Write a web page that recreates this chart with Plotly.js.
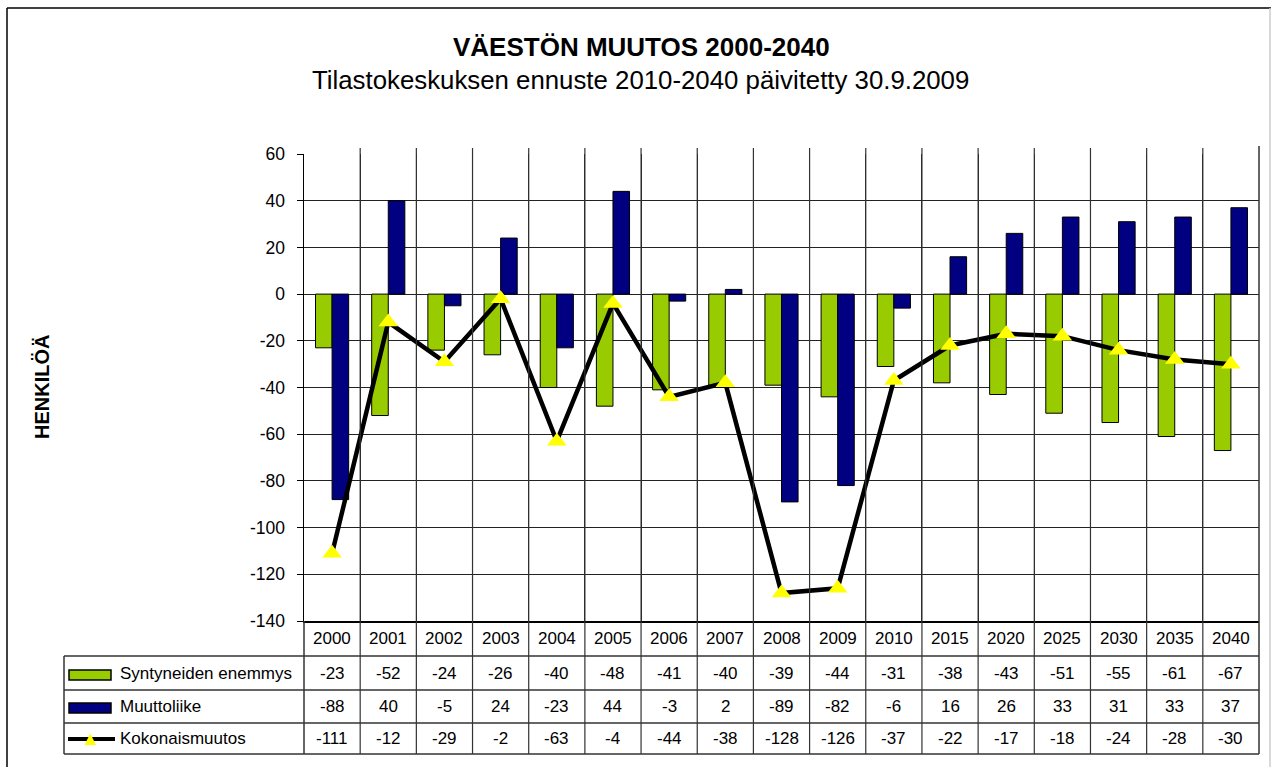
<!DOCTYPE html>
<html>
<head>
<meta charset="utf-8">
<script src="https://cdn.plot.ly/plotly-3.0.1.min.js"></script>
<style>html,body{margin:0;padding:0;background:#fff;}#chart{width:1274px;height:767px;}</style>
</head>
<body>
<div id="chart"></div>
<script>
// ---- data ----
const categories = ['2000','2001','2002','2003','2004','2005','2006','2007','2008','2009','2010','2015','2020','2025','2030','2035','2040'];
const syntyneidenEnemmys = [-23,-52,-24,-26,-40,-48,-41,-40,-39,-44,-31,-38,-43,-51,-55,-61,-67];
const muuttoliike = [-88,40,-5,24,-23,44,-3,2,-89,-82,-6,16,26,33,31,33,37];
const kokonaismuutos = [-111,-12,-29,-2,-63,-4,-44,-38,-128,-126,-37,-22,-17,-18,-24,-28,-30];
const seriesNames = ['Syntyneiden enemmys','Muuttoliike','Kokonaismuutos'];
const yTicks = [60,40,20,0,-20,-40,-60,-80,-100,-120,-140];

// ---- layout helpers (pixel -> paper) ----
const W = 1274, H = 767, ML = 304, MR = 15, MT = 154, MB = 146;
const PW = W - ML - MR, PH = H - MT - MB;
const px = p => (p - ML) / PW;
const py = p => (H - MB - p) / PH;

const FONT = 'Liberation Sans, Arial, sans-serif';
const GREEN = '#99CC00', NAVY = '#000080';
const LINEC = '#333';

const traces = [
  {type:'bar', name:seriesNames[0], x:categories, y:syntyneidenEnemmys,
   marker:{color:GREEN, line:{color:'#000', width:1}}},
  {type:'bar', name:seriesNames[1], x:categories, y:muuttoliike,
   marker:{color:NAVY, line:{color:'#000', width:1}}},
  {type:'scatter', mode:'lines+markers', name:seriesNames[2], x:categories, y:kokonaismuutos,
   line:{color:'#000', width:4.5},
   marker:{symbol:'triangle-up', color:'#FFFF00', size:17, line:{width:0}}}
];

const shapes = [];
const annotations = [];

// outer frame
shapes.push({type:'line', xref:'paper', yref:'paper', x0:px(7), x1:px(7), y0:py(8), y1:py(800), line:{color:'#000', width:1.5}});
shapes.push({type:'line', xref:'paper', yref:'paper', x0:px(7), x1:px(1271), y0:py(8), y1:py(8), line:{color:'#000', width:1.5}});
shapes.push({type:'line', xref:'paper', yref:'paper', x0:px(1270), x1:px(1270), y0:py(8), y1:py(800), line:{color:'#ccc', width:1.5}});

// table grid
const rowLines = [656, 690, 723, 754];
rowLines.forEach(r => shapes.push({type:'line', xref:'paper', yref:'paper', x0:px(64), x1:1, y0:py(r), y1:py(r), line:{color:LINEC, width:1.5}}));
shapes.push({type:'line', xref:'paper', yref:'paper', x0:px(64), x1:px(64), y0:py(656), y1:py(754), line:{color:LINEC, width:1.5}});
shapes.push({type:'line', xref:'paper', yref:'paper', x0:0, x1:0, y0:0, y1:py(754), line:{color:LINEC, width:1.5}});
shapes.push({type:'line', xref:'paper', yref:'paper', x0:1, x1:1, y0:py(146), y1:py(754), line:{color:LINEC, width:1.5}});
for (let i = 1; i < categories.length; i++) {
  shapes.push({type:'line', xref:'x', yref:'paper', x0:i-0.5, x1:i-0.5, y0:py(148), y1:py(754), line:{color:LINEC, width:1.2}});
}

// table texts
const rowCenters = [673, 706.5, 738.5];
const rows = [syntyneidenEnemmys, muuttoliike, kokonaismuutos];
categories.forEach((c, i) => {
  annotations.push({xref:'x', yref:'paper', x:i, y:py(638.5), text:c, showarrow:false,
    font:{family:FONT, size:17, color:'#000'}, xanchor:'center', yanchor:'middle'});
  rows.forEach((arr, r) => {
    annotations.push({xref:'x', yref:'paper', x:i, y:py(rowCenters[r]), text:String(arr[i]), showarrow:false,
      font:{family:FONT, size:17, color:'#000'}, xanchor:'center', yanchor:'middle'});
  });
});

// legend keys in table
shapes.push({type:'rect', xref:'paper', yref:'paper', x0:px(69), x1:px(111), y0:py(670), y1:py(680), fillcolor:GREEN, line:{color:'#000', width:1.5}});
shapes.push({type:'rect', xref:'paper', yref:'paper', x0:px(69), x1:px(111), y0:py(703), y1:py(713), fillcolor:NAVY, line:{color:'#000', width:1.5}});
shapes.push({type:'line', xref:'paper', yref:'paper', x0:px(68), x1:px(115), y0:py(739), y1:py(739), line:{color:'#000', width:4}});
const tri = `M ${px(84.5)} ${py(745)} L ${px(96)} ${py(745)} L ${px(90.25)} ${py(733.5)} Z`;
shapes.push({type:'path', xref:'paper', yref:'paper', path:tri, fillcolor:'#FFFF00', line:{width:0}});
seriesNames.forEach((n, r) => {
  annotations.push({xref:'paper', yref:'paper', x:px(118), y:py(rowCenters[r]), text:n, showarrow:false,
    font:{family:FONT, size:17, color:'#000'}, xanchor:'left', yanchor:'middle'});
});

// titles
annotations.push({xref:'paper', yref:'paper', x:px(641), y:py(47), text:'<b>VÄESTÖN MUUTOS 2000-2040</b>', showarrow:false,
  font:{family:FONT, size:26, color:'#000'}, xanchor:'center', yanchor:'middle'});
annotations.push({xref:'paper', yref:'paper', x:px(640), y:py(80), text:'Tilastokeskuksen ennuste 2010-2040 päivitetty 30.9.2009', showarrow:false,
  font:{family:FONT, size:25.8, color:'#000'}, xanchor:'center', yanchor:'middle'});
annotations.push({xref:'paper', yref:'paper', x:px(42), y:py(387), text:'<b>HENKILÖÄ</b>', showarrow:false, textangle:-90,
  font:{family:FONT, size:20, color:'#000'}, xanchor:'center', yanchor:'middle'});

const layout = {
  width:W, height:H,
  margin:{l:ML, r:MR, t:MT, b:MB, pad:0},
  paper_bgcolor:'#fff', plot_bgcolor:'#fff',
  showlegend:false,
  barmode:'group', bargap:0.41, bargroupgap:0,
  font:{family:FONT, size:17, color:'#000'},
  xaxis:{type:'category', tickson:'boundaries', showgrid:true, gridcolor:'#222', gridwidth:1,
    showticklabels:false, ticks:'', showline:true, linecolor:'#000', linewidth:1.5, mirror:false,
    range:[-0.5, categories.length-0.5], fixedrange:true},
  yaxis:{range:[-140,60], tickvals:yTicks, ticktext:yTicks.map(String), showgrid:true, gridcolor:'#222', gridwidth:1,
    zeroline:false, showline:true, linecolor:'#000', linewidth:1.5, ticks:'outside', ticklen:6, tickcolor:'#000',
    tickfont:{family:FONT, size:17.5, color:'#000'}, ticklabelstandoff:8, fixedrange:true},
  shapes:shapes,
  annotations:annotations
};

Plotly.newPlot('chart', traces, layout, {displayModeBar:false, staticPlot:true});
</script>
</body>
</html>
